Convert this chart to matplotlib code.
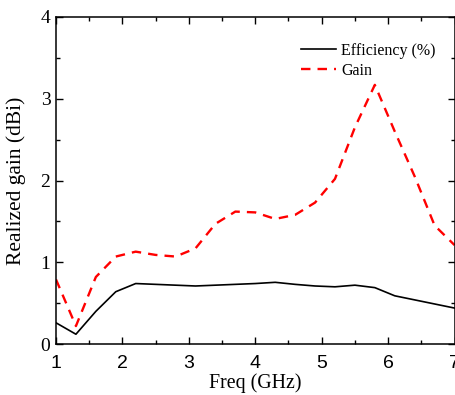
import matplotlib
matplotlib.use('Agg')
import matplotlib.pyplot as plt
from matplotlib.ticker import MultipleLocator

freq = [1.0, 1.3, 1.6, 1.9, 2.2, 2.5, 2.8, 3.1, 3.4, 3.7, 4.0,
        4.3, 4.6, 4.9, 5.2, 5.5, 5.8, 6.1, 6.4, 6.7, 7.0]
efficiency = [0.26, 0.12, 0.40, 0.64, 0.74, 0.73, 0.72, 0.71, 0.72, 0.73, 0.74,
              0.755, 0.73, 0.71, 0.70, 0.72, 0.69, 0.59, 0.54, 0.49, 0.44]
gain = [0.79, 0.22, 0.82, 1.07, 1.13, 1.09, 1.07, 1.17, 1.47, 1.62, 1.61,
        1.53, 1.58, 1.73, 2.02, 2.65, 3.17, 2.60, 2.05, 1.45, 1.21]

serif = 'Liberation Serif'
sans = 'Liberation Sans'

fig = plt.figure(figsize=(4.56, 3.95), dpi=100)
ax = fig.add_axes([0.1228, 0.129, 0.874, 0.828])

ax.plot(freq, efficiency, color='black', lw=1.2, label='Efficiency (%)')
ax.plot(freq, gain, color='red', lw=1.7, dashes=(4, 3), label='Gain')

ax.set_xlim(1, 7)
ax.set_ylim(0, 4)
ax.xaxis.set_major_locator(MultipleLocator(1))
ax.xaxis.set_minor_locator(MultipleLocator(0.5))
ax.yaxis.set_major_locator(MultipleLocator(1))
ax.yaxis.set_minor_locator(MultipleLocator(0.5))
ax.tick_params(which='both', direction='in', top=True, right=True, width=1)
ax.tick_params(which='major', length=5)
ax.tick_params(which='minor', length=3)
ax.tick_params(axis='x', which='major', pad=8)
ax.tick_params(axis='y', which='major', pad=4)
for lab in ax.get_xticklabels():
    lab.set_fontfamily(sans)
    lab.set_fontsize(14)
for lab in ax.get_yticklabels():
    lab.set_fontfamily(serif)
    lab.set_fontsize(14)
for sp in ax.spines.values():
    sp.set_linewidth(1.1)

ax.set_xlabel('Freq (GHz)', fontfamily=serif, fontsize=14.3)
ax.set_ylabel('Realized gain (dBi)', fontfamily=serif, fontsize=15.5)
ax.xaxis.set_label_coords(0.5, -0.088)
ax.yaxis.set_label_coords(-0.075, 0.5)

ax.legend(loc='upper left', bbox_to_anchor=(0.598, 0.94), frameon=False,
          prop={'family': serif, 'size': 11.5}, handlelength=2.2,
          handletextpad=0.35, labelspacing=0.22, borderaxespad=0)

fig.savefig('out.png', dpi=100)
